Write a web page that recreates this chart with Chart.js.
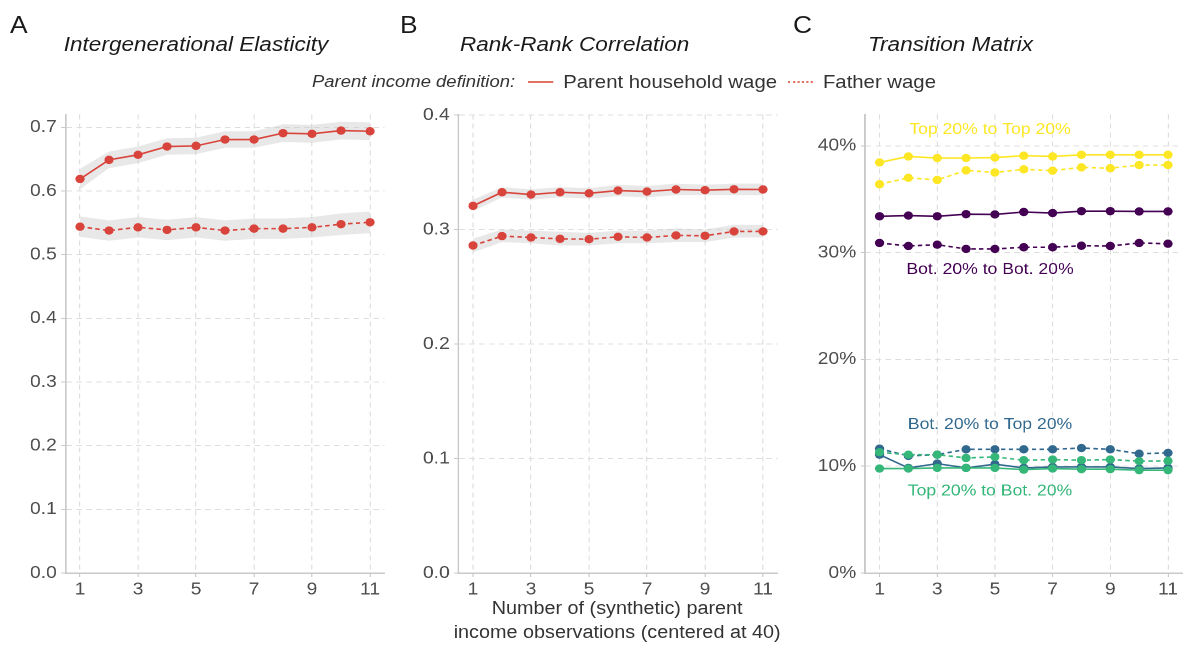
<!DOCTYPE html>
<html>
<head>
<meta charset="utf-8">
<script src="https://cdn.jsdelivr.net/npm/chart.js@4.4.1/dist/chart.umd.min.js"></script>
<style>
html,body{margin:0;padding:0;background:#fff;overflow:hidden;width:1184px;height:655px}
#stage{position:absolute;left:0;top:0;width:1080px;height:655px;transform-origin:0 0;transform:scaleX(1.1);font-family:"Liberation Sans",Arial,sans-serif;color:#1a1a1a}
.lbl{position:absolute;white-space:nowrap;line-height:1}
.letter{font-size:24px;color:#1a1a1a}
.ptitle{font-size:20.5px;font-style:italic;color:#1a1a1a}
canvas{position:absolute;top:100px}
#legend{display:flex;align-items:center;font-size:18.5px;color:#333;top:73px;left:283.6px}
#legend .ttl{font-style:italic;font-size:16.8px}
#legend .sw{display:inline-block;width:22.7px;height:0}
#xtitle{font-size:18px;line-height:24px;text-align:center;color:#333;top:596px;left:561px;transform:translateX(-50%)}
</style>
</head>
<body>
<div id="stage">
  <div class="lbl letter" style="left:9px;top:13px">A</div>
  <div class="lbl ptitle" style="left:58px;top:33.5px">Intergenerational Elasticity</div>
  <div class="lbl letter" style="left:363.6px;top:13px">B</div>
  <div class="lbl ptitle" style="left:418.2px;top:33.5px">Rank-Rank Correlation</div>
  <div class="lbl letter" style="left:720.9px;top:13px">C</div>
  <div class="lbl ptitle" style="left:789.1px;top:33.5px">Transition Matrix</div>
  <div id="legend" class="lbl">
    <span class="ttl">Parent income definition:</span>
    <span class="sw" style="border-top:2px solid #E0735E;margin:0 9px 0 12px"></span><span id="legA"></span>
    <span class="sw" style="border-top:2px dotted #E0735E;margin:0 9px 0 10px"></span><span id="legB"></span>
  </div>
  <div id="xtitle" class="lbl">Number of (synthetic) parent<br>income observations (centered at 40)</div>
  <canvas id="cA" style="left:0px"></canvas>
  <canvas id="cB" style="left:360px"></canvas>
  <canvas id="cC" style="left:730px"></canvas>
</div>
<script>
// ---------- data ----------
const seriesNames = ['Parent household wage', 'Father wage'];
const xValues = [1, 2, 3, 4, 5, 6, 7, 8, 9, 10, 11];
const xTickValues = [1, 3, 5, 7, 9, 11];

const yTicksA = [0, 0.1, 0.2, 0.3, 0.4, 0.5, 0.6, 0.7];
const igeHousehold     = [0.619, 0.649, 0.657, 0.670, 0.671, 0.681, 0.681, 0.691, 0.690, 0.695, 0.694];
const igeHouseholdLow  = [0.603, 0.636, 0.644, 0.657, 0.658, 0.668, 0.668, 0.677, 0.676, 0.681, 0.680];
const igeHouseholdHigh = [0.635, 0.662, 0.670, 0.683, 0.684, 0.694, 0.694, 0.705, 0.704, 0.709, 0.708];
const igeFather        = [0.544, 0.538, 0.543, 0.539, 0.543, 0.538, 0.541, 0.541, 0.543, 0.548, 0.551];
const igeFatherLow     = [0.528, 0.522, 0.527, 0.523, 0.527, 0.522, 0.525, 0.525, 0.527, 0.531, 0.534];
const igeFatherHigh    = [0.560, 0.554, 0.559, 0.555, 0.559, 0.554, 0.557, 0.557, 0.559, 0.565, 0.568];

const yTicksB = [0, 0.1, 0.2, 0.3, 0.4];
const rrHousehold     = [0.3206, 0.3325, 0.3305, 0.3325, 0.3316, 0.3340, 0.3331, 0.3349, 0.3343, 0.3351, 0.3349];
const rrHouseholdLow  = [0.3160, 0.3280, 0.3260, 0.3280, 0.3270, 0.3290, 0.3280, 0.3300, 0.3300, 0.3300, 0.3300];
const rrHouseholdHigh = [0.3260, 0.3370, 0.3350, 0.3370, 0.3360, 0.3390, 0.3380, 0.3400, 0.3390, 0.3400, 0.3400];
const rrFather        = [0.2860, 0.2942, 0.2930, 0.2918, 0.2915, 0.2936, 0.2930, 0.2948, 0.2945, 0.2983, 0.2983];
const rrFatherLow     = [0.2800, 0.2890, 0.2880, 0.2860, 0.2860, 0.2880, 0.2880, 0.2890, 0.2890, 0.2930, 0.2930];
const rrFatherHigh    = [0.2920, 0.3000, 0.2990, 0.2980, 0.2970, 0.2990, 0.2990, 0.3010, 0.3000, 0.3040, 0.3040];

const yTicksC = [0, 10, 20, 30, 40];
const transitionNames = ['Top 20% to Top 20%', 'Bot. 20% to Bot. 20%', 'Bot. 20% to Top 20%', 'Top 20% to Bot. 20%'];
const topTopHousehold = [38.44, 39.00, 38.85, 38.85, 38.90, 39.07, 39.00, 39.16, 39.16, 39.16, 39.16];
const topTopFather    = [36.40, 37.00, 36.80, 37.70, 37.50, 37.80, 37.67, 37.98, 37.90, 38.20, 38.20];
const botBotHousehold = [33.40, 33.47, 33.40, 33.60, 33.57, 33.80, 33.70, 33.88, 33.88, 33.85, 33.85];
const botBotFather    = [30.90, 30.62, 30.74, 30.34, 30.34, 30.50, 30.50, 30.64, 30.62, 30.90, 30.83];
const botTopHousehold = [11.08, 9.84, 10.24, 9.84, 10.19, 9.84, 9.93, 9.93, 9.93, 9.78, 9.84];
const botTopFather    = [11.64, 10.96, 11.08, 11.58, 11.58, 11.58, 11.58, 11.70, 11.58, 11.17, 11.24];
const topBotHousehold = [9.78, 9.78, 9.84, 9.84, 9.84, 9.68, 9.78, 9.72, 9.72, 9.63, 9.63];
const topBotFather    = [11.30, 11.08, 11.08, 10.77, 10.87, 10.56, 10.62, 10.56, 10.62, 10.47, 10.50];

// ---------- styling ----------
const FONT = '"Liberation Sans", Arial, sans-serif';
const RED = '#D8443C';
const BAND = 'rgba(200,200,200,0.42)';
const GRID = '#DEDEDE';
const AXIS = '#C9C9C9';
const TICK = '#4D4D4D';
const VIR = { purple: '#440154', blue: '#31688E', green: '#35B779', yellow: '#FDE725' };

document.getElementById('legA').textContent = seriesNames[0];
document.getElementById('legB').textContent = seriesNames[1];

function pts(arr) { return xValues.map((x, i) => ({ x: x, y: arr[i] })); }
function line(label, arr, color, dashed, order) {
  return { label, data: pts(arr), borderColor: color, backgroundColor: color,
    borderWidth: 1.6, borderDash: dashed ? [4, 3] : [], pointRadius: 4.2, pointHoverRadius: 4.2,
    pointBorderWidth: 0, fill: false, tension: 0, order: order };
}
function band(lo, hi) {
  return [
    { label: 'lo', data: pts(lo), borderWidth: 0, borderColor: 'rgba(0,0,0,0)', pointRadius: 0, fill: false, order: 20 },
    { label: 'hi', data: pts(hi), borderWidth: 0, borderColor: 'rgba(0,0,0,0)', pointRadius: 0, fill: '-1', backgroundColor: BAND, order: 20 }
  ];
}

const textLabels = {
  id: 'textLabels',
  afterDatasetsDraw(chart, args, opts) {
    if (!opts.items) return;
    const ctx = chart.ctx, xs = chart.scales.x, ys = chart.scales.y;
    ctx.save();
    ctx.font = '16px ' + FONT;
    ctx.textAlign = 'center';
    ctx.textBaseline = 'middle';
    opts.items.forEach(it => {
      ctx.fillStyle = it.color;
      ctx.fillText(it.text, xs.getPixelForValue(it.x), ys.getPixelForValue(it.y));
    });
    ctx.restore();
  }
};

function makeChart(id, w, datasets, cfg) {
  const cv = document.getElementById(id);
  cv.width = w; cv.height = 500;
  cv.style.width = w + 'px'; cv.style.height = '500px';
  return new Chart(cv, {
    type: 'line',
    data: { datasets },
    options: {
      responsive: false, animation: false, devicePixelRatio: 2,
      layout: { padding: { top: 12, right: cfg.padR, left: 0, bottom: 0 } },
      plugins: { legend: { display: false }, tooltip: { enabled: false }, textLabels: { items: cfg.labels || null } },
      scales: {
        x: {
          type: 'linear', min: 0.5, max: 11.5,
          afterBuildTicks: s => { s.ticks = xTickValues.map(v => ({ value: v })); },
          afterFit: s => { s.height = 27; },
          grid: { color: GRID, lineWidth: 1, tickLength: 4, tickColor: AXIS, tickWidth: 1 },
          border: { display: true, color: AXIS, width: 1.5, dash: [5, 4] },
          ticks: { font: { family: FONT, size: 17.5 }, color: TICK, padding: 2, maxRotation: 0, autoSkip: false, callback: v => String(v) }
        },
        y: {
          type: 'linear', min: 0, max: cfg.yMax,
          afterBuildTicks: s => { s.ticks = cfg.yTicks.map(v => ({ value: v })); },
          afterFit: s => { s.width = cfg.yW; },
          grid: { color: GRID, lineWidth: 1, tickLength: 4, tickColor: AXIS, tickWidth: 1 },
          border: { display: true, color: AXIS, width: 1.5, dash: [5, 4] },
          ticks: { font: { family: FONT, size: 17.5 }, color: TICK, padding: 4, autoSkip: false, callback: cfg.fmt }
        }
      }
    },
    plugins: [textLabels]
  });
}

makeChart('cA', 357, [
  ...band(igeHouseholdLow, igeHouseholdHigh),
  ...band(igeFatherLow, igeFatherHigh),
  line(seriesNames[0], igeHousehold, RED, false, 1),
  line(seriesNames[1], igeFather, RED, true, 1)
], { yMax: 0.7203, yTicks: yTicksA, yW: 59.55, padR: 7.45, fmt: v => v.toFixed(1) });

makeChart('cB', 353, [
  ...band(rrHouseholdLow, rrHouseholdHigh),
  ...band(rrFatherLow, rrFatherHigh),
  line(seriesNames[0], rrHousehold, RED, false, 1),
  line(seriesNames[1], rrFather, RED, true, 1)
], { yMax: 0.4004, yTicks: yTicksB, yW: 56.82, padR: 6.18, fmt: v => v.toFixed(1) });

makeChart('cC', 350, [
  line(transitionNames[1] + ' (household)', botBotHousehold, VIR.purple, false, 4),
  line(transitionNames[1] + ' (father)', botBotFather, VIR.purple, true, 4),
  line(transitionNames[2] + ' (household)', botTopHousehold, VIR.blue, false, 3),
  line(transitionNames[2] + ' (father)', botTopFather, VIR.blue, true, 3),
  line(transitionNames[3] + ' (household)', topBotHousehold, VIR.green, false, 2),
  line(transitionNames[3] + ' (father)', topBotFather, VIR.green, true, 2),
  line(transitionNames[0] + ' (household)', topTopHousehold, VIR.yellow, false, 1),
  line(transitionNames[0] + ' (father)', topTopFather, VIR.yellow, true, 1)
], { yMax: 42.93, yTicks: yTicksC, yW: 56.45, padR: 5.1, fmt: v => v + '%',
     labels: [
       { text: transitionNames[0], x: 4.83, y: 41.5, color: VIR.yellow },
       { text: transitionNames[1], x: 4.83, y: 28.4, color: VIR.purple },
       { text: transitionNames[2], x: 4.83, y: 13.9, color: VIR.blue },
       { text: transitionNames[3], x: 4.83, y: 7.67, color: VIR.green }
     ] });
</script>
</body>
</html>
